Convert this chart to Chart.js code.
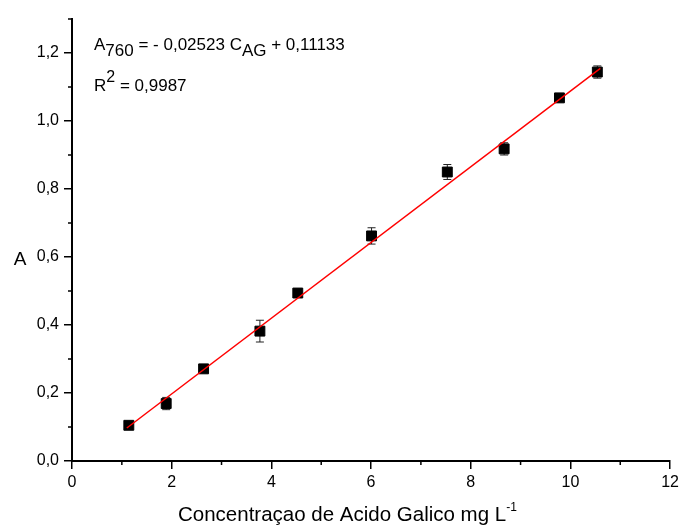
<!DOCTYPE html>
<html lang="pt">
<head>
<meta charset="UTF-8">
<title>Curva de calibracao - Acido Galico</title>
<script src="https://cdn.jsdelivr.net/npm/chart.js"></script>
<style>
  html, body { margin: 0; padding: 0; background: #fff; }
  #wrap { width: 683px; height: 532px; }
</style>
</head>
<body>
<div id="wrap"><canvas id="calChart"></canvas></div>
<script>
  // data
  const concentration = [1.14, 1.89, 2.64, 3.77, 4.53, 6.01, 7.53, 8.67, 9.78, 10.54];
  const absorbance = [0.105, 0.169, 0.271, 0.382, 0.494, 0.662, 0.850, 0.918, 1.068, 1.144];
  const absError = [0.005, 0.018, 0.005, 0.032, 0.012, 0.024, 0.022, 0.018, 0.008, 0.018];
  // ends of the fitted line
  const fitX = [1.1, 10.6];
  const fitY = [0.097, 1.155];
  const xMinorTicks = [1, 3, 5, 7, 9, 11];
  const yMinorTicks = [0.1, 0.3, 0.5, 0.7, 0.9, 1.1, 1.3];

  const FONT = '"Liberation Sans", Arial, sans-serif';

  function drawRuns(ctx, x, y, runs) {
    runs.forEach(r => {
      ctx.font = r[1] + 'px ' + FONT;
      ctx.fillText(r[0], x, y + r[2]);
      x += ctx.measureText(r[0]).width;
    });
  }

  const errorBars = {
    id: 'errorBars',
    beforeDatasetsDraw(chart) {
      const { ctx, scales: { x, y } } = chart;
      ctx.save();
      ctx.strokeStyle = '#222';
      ctx.lineWidth = 1;
      concentration.forEach((c, i) => {
        const px = x.getPixelForValue(c);
        const top = y.getPixelForValue(absorbance[i] + absError[i]);
        const bot = y.getPixelForValue(absorbance[i] - absError[i]);
        ctx.beginPath();
        ctx.moveTo(px, top); ctx.lineTo(px, bot);
        ctx.moveTo(px - 4, top); ctx.lineTo(px + 4, top);
        ctx.moveTo(px - 4, bot); ctx.lineTo(px + 4, bot);
        ctx.stroke();
      });
      ctx.restore();
    }
  };

  const extras = {
    id: 'extras',
    afterDraw(chart) {
      const { ctx, scales: { x, y } } = chart;
      ctx.save();
      // minor ticks
      ctx.strokeStyle = '#000';
      ctx.lineWidth = 1.5;
      ctx.beginPath();
      yMinorTicks.forEach(v => {
        const py = y.getPixelForValue(v);
        ctx.moveTo(y.right - 4, py); ctx.lineTo(y.right, py);
      });
      xMinorTicks.forEach(v => {
        const px = x.getPixelForValue(v);
        ctx.moveTo(px, x.top); ctx.lineTo(px, x.top + 4);
      });
      ctx.stroke();

      // texts
      ctx.fillStyle = '#000';
      ctx.textBaseline = 'alphabetic';
      ctx.textAlign = 'left';
      drawRuns(ctx, 94, 50, [['A', 17, 0], ['760', 17, 6], [' = - 0,02523 C', 17, 0], ['AG', 17, 6], [' + 0,11133', 17, 0]]);
      drawRuns(ctx, 94, 91, [['R', 17, 0], ['2', 16, -9], [' = 0,9987', 17, 0]]);

      ctx.font = '19px ' + FONT;
      ctx.textAlign = 'center';
      ctx.fillText('A', 20, 265);
      ctx.textAlign = 'left';
      drawRuns(ctx, 178, 521, [['Concentraçao de Acido Galico mg L', 20.5, 0], ['-1', 12, -10]]);
      ctx.restore();
    }
  };

  const comma = v => Number(v).toFixed(1).replace('.', ',');

  new Chart(document.getElementById('calChart'), {
    type: 'scatter',
    data: {
      datasets: [{
        label: 'ajuste',
        data: fitX.map((v, i) => ({ x: v, y: fitY[i] })),
        showLine: true,
        borderColor: '#ff0000',
        borderWidth: 1.5,
        pointRadius: 0,
        order: 0
      }, {
        label: 'A760',
        data: concentration.map((v, i) => ({ x: v, y: absorbance[i] })),
        pointStyle: 'rect',
        pointRadius: 7,
        backgroundColor: '#000',
        borderColor: '#000',
        borderWidth: 1,
        order: 1
      }]
    },
    options: {
      responsive: true,
      maintainAspectRatio: false,
      animation: false,
      layout: { padding: { top: 19, right: 10, left: 0, bottom: 0 } },
      plugins: {
        legend: { display: false },
        tooltip: { enabled: false }
      },
      scales: {
        x: {
          type: 'linear',
          min: 0,
          max: 12,
          afterFit(s) { s.height = 71; },
          border: { display: true, color: '#000', width: 2 },
          grid: { drawOnChartArea: false, drawTicks: true, tickLength: 8, color: '#000', lineWidth: 1.5 },
          ticks: { stepSize: 2, padding: 4, color: '#000', font: { family: FONT, size: 16 } }
        },
        y: {
          min: 0,
          max: 1.3,
          afterFit(s) { s.width = 72; },
          border: { display: true, color: '#000', width: 2 },
          grid: { drawOnChartArea: false, drawTicks: true, tickLength: 8, color: '#000', lineWidth: 1.5 },
          ticks: {
            stepSize: 0.2,
            includeBounds: false,
            padding: 5,
            color: '#000',
            font: { family: FONT, size: 16 },
            callback: v => comma(v)
          }
        }
      }
    },
    plugins: [errorBars, extras]
  });
</script>
</body>
</html>
